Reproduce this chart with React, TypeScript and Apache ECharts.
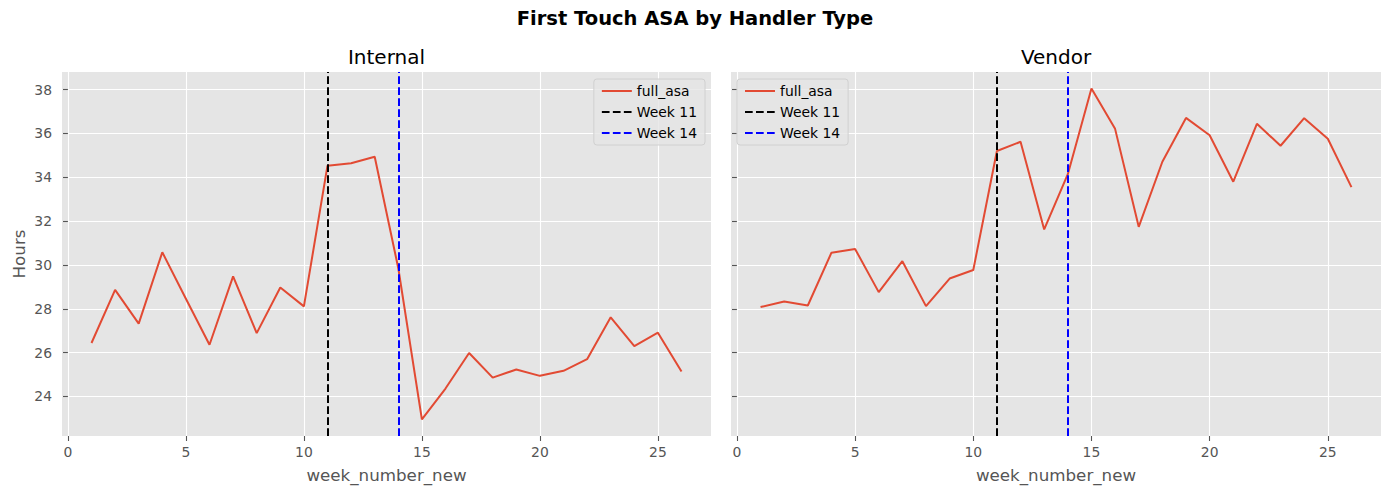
import React, { useEffect, useRef } from "react";
import * as echarts from "echarts";

const WEEKS = [1, 2, 3, 4, 5, 6, 7, 8, 9, 10, 11, 12, 13, 14, 15, 16, 17, 18, 19, 20, 21, 22, 23, 24, 25, 26];
const INTERNAL = [26.44, 28.86, 27.32, 30.58, 28.46, 26.36, 29.48, 26.89, 28.97, 28.11, 34.53, 34.64, 34.94, 29.85, 22.95, 24.36, 25.98, 24.86, 25.23, 24.94, 25.17, 25.7, 27.61, 26.3, 26.91, 25.14];
const VENDOR = [28.08, 28.33, 28.15, 30.56, 30.73, 28.76, 30.17, 28.12, 29.38, 29.77, 35.2, 35.62, 31.62, 34.14, 38.05, 36.21, 31.74, 34.71, 36.71, 35.92, 33.8, 36.44, 35.44, 36.7, 35.76, 33.55];
const MARKERS = [
  { name: "Week 11", week: 11, color: "#000000" },
  { name: "Week 14", week: 14, color: "#0000ff" },
];
const PANELS = ["Internal", "Vendor"];
const X_TICKS = [0, 5, 10, 15, 20, 25];
const Y_TICKS = [24, 26, 28, 30, 32, 34, 36, 38];

const FONT = "DejaVu Sans";
const TXT = "#555555";
const DASH = [7.7, 3.3];

export default function App() {
  const ref = useRef<HTMLDivElement>(null);
  useEffect(() => {
    const chart = echarts.init(ref.current!, undefined, { renderer: "svg" });
    const all = INTERNAL.concat(VENDOR);
    const lo = Math.min(...all);
    const hi = Math.max(...all);
    const pad = (hi - lo) * 0.05;
    const xlo = WEEKS[0] - (WEEKS[WEEKS.length - 1] - WEEKS[0]) * 0.05;
    const xhi = WEEKS[WEEKS.length - 1] + (WEEKS[WEEKS.length - 1] - WEEKS[0]) * 0.05;
    const grids = [
      { left: 62, top: 72, width: 649, height: 364 },
      { left: 731, top: 72, width: 650, height: 364 },
    ];
    const xAxis = grids.map((_, i) => ({
      type: "value",
      gridIndex: i,
      min: xlo,
      max: xhi,
      name: "week_number_new",
      nameLocation: "middle",
      nameGap: 30,
      nameTextStyle: { color: TXT, fontSize: 16.7, fontFamily: FONT },
      axisLine: { show: false },
      axisTick: { show: true, length: 5, lineStyle: { color: TXT, width: 1.1 }, customValues: X_TICKS },
      axisLabel: { color: TXT, fontSize: 13.9, fontFamily: FONT, margin: 9, customValues: X_TICKS },
      splitLine: { show: true, lineStyle: { color: "#ffffff", width: 1.1 } },
    }));
    const yAxis = grids.map((_, i) => ({
      type: "value",
      gridIndex: i,
      min: lo - pad,
      max: hi + pad,
      name: i === 0 ? "Hours" : "",
      nameLocation: "middle",
      nameGap: 35,
      nameTextStyle: { color: TXT, fontSize: 16.7, fontFamily: FONT },
      axisLine: { show: false },
      axisTick: { show: true, length: 5, lineStyle: { color: TXT, width: 1.1 }, customValues: Y_TICKS },
      axisLabel: { show: i === 0, color: TXT, fontSize: 13.9, fontFamily: FONT, margin: 10, customValues: Y_TICKS },
      splitLine: { show: true, lineStyle: { color: "#ffffff", width: 1.1 } },
    }));
    const seriesData = [INTERNAL, VENDOR];
    const series: any[] = [];
    seriesData.forEach((vals, i) => {
      series.push({
        type: "line",
        name: "full_asa",
        xAxisIndex: i,
        yAxisIndex: i,
        data: WEEKS.map((w, k) => [w, vals[k]]),
        symbol: "none",
        color: "#E24A33",
        lineStyle: { color: "#E24A33", width: 2 },
        z: 3,
      });
      MARKERS.forEach((m) => {
        series.push({
          type: "line",
          name: m.name,
          xAxisIndex: i,
          yAxisIndex: i,
          data: [],
          symbol: "none",
          color: m.color,
          lineStyle: { color: m.color, width: 2, type: DASH },
          markLine: {
            silent: true,
            symbol: "none",
            label: { show: false },
            lineStyle: { color: m.color, width: 2, type: DASH },
            data: [{ xAxis: m.week }],
          },
          z: 2,
        });
      });
    });
    const legendBase = {
      orient: "vertical",
      top: 79,
      itemWidth: 30,
      itemHeight: 14,
      itemGap: 7,
      padding: [5, 8, 5, 7],
      backgroundColor: "rgba(229,229,229,0.8)",
      borderColor: "#d0d0d0",
      borderWidth: 1,
      borderRadius: 3,
      itemStyle: { opacity: 0 },
      lineStyle: { width: 2 },
      textStyle: { color: "#000", fontSize: 13.9, fontFamily: FONT },
      data: ["full_asa", "Week 11", "Week 14"],
    };
    chart.setOption({
      animation: false,
      backgroundColor: "#ffffff",
      title: [
        {
          text: "First Touch ASA by Handler Type",
          left: 695,
          textAlign: "center",
          top: 8,
          padding: 0,
          textStyle: { color: "#000", fontSize: 19.5, fontWeight: "bold", fontFamily: FONT },
        },
        ...PANELS.map((p, i) => ({
          text: p,
          left: grids[i].left + grids[i].width / 2,
          textAlign: "center",
          top: 47,
          padding: 0,
          textStyle: { color: "#000", fontSize: 20, fontWeight: "normal", fontFamily: FONT },
        })),
      ],
      legend: [
        { ...legendBase, right: 1389 - 705 },
        { ...legendBase, left: 737 },
      ],
      grid: grids.map((g) => ({ ...g, backgroundColor: "#E5E5E5", show: true, borderWidth: 0 })),
      xAxis,
      yAxis,
      series,
    });
    return () => chart.dispose();
  }, []);
  return <div ref={ref} style={{ position: "absolute", left: 0, top: 0, width: 1389, height: 494 }} />;
}
